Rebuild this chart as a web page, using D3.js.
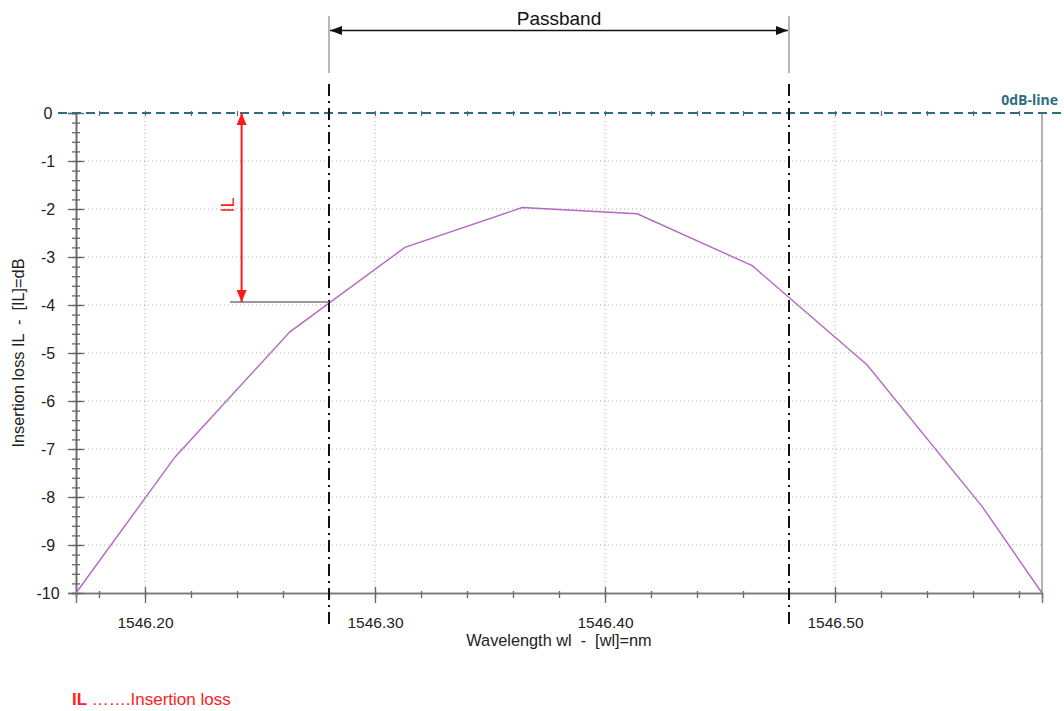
<!DOCTYPE html>
<html>
<head>
<meta charset="utf-8">
<script src="https://cdn.jsdelivr.net/npm/d3@7"></script>
<style>
  body { margin: 0; background: #fff; }
  svg { display: block; font-family: "Liberation Sans", Arial, sans-serif; }
</style>
</head>
<body>
<svg id="chart" width="1064" height="711"></svg>
<script>
// ---- data ----
const wavelengths = [1546.17, 1546.213, 1546.263, 1546.313, 1546.364, 1546.414, 1546.464, 1546.514, 1546.564, 1546.59];
const insertionLoss = [-10, -7.17, -4.56, -2.80, -1.97, -2.10, -3.18, -5.25, -8.20, -10];
const xDomain = [1546.17, 1546.59];
const yDomain = [-10, 0];
const xMajorTicks = [1546.20, 1546.30, 1546.40, 1546.50];
const yMajorTicks = [0, -1, -2, -3, -4, -5, -6, -7, -8, -9, -10];
const passband = [1546.28, 1546.48];
const ilValue = -3.94;
const ilArrowX = 1546.242;
const ilMarkStart = 1546.237;

// ---- layout ----
const svg = d3.select("#chart");
const pLeft = 76, pRight = 1042, pTop = 113, pBottom = 593;
const x = d3.scaleLinear().domain(xDomain).range([pLeft, pRight]);
const y = d3.scaleLinear().domain(yDomain).range([pBottom, pTop]);

const xMinor = d3.range(0, 21).map(i => +(1546.18 + i * 0.02).toFixed(2)).filter(v => v < xDomain[1]);
const yMinor = d3.range(0, 51).map(i => +(-10 + i * 0.2).toFixed(1));

// grid
const grid = svg.append("g");
grid.selectAll(".vg").data(xMajorTicks).join("line")
  .attr("x1", d => x(d)).attr("x2", d => x(d)).attr("y1", pTop).attr("y2", pBottom)
  .attr("stroke", "#aaa").attr("stroke-width", 1).attr("stroke-dasharray", "1,3");
grid.selectAll(".hg").data(yMajorTicks.filter(d => d !== 0 && d !== -10)).join("line")
  .attr("x1", pLeft).attr("x2", pRight).attr("y1", d => y(d)).attr("y2", d => y(d))
  .attr("stroke", "#aaa").attr("stroke-width", 1).attr("stroke-dasharray", "1,3");

// right border
svg.append("line").attr("x1", pRight).attr("x2", pRight).attr("y1", pTop).attr("y2", pBottom)
  .attr("stroke", "#999").attr("stroke-width", 1.5);

// x axis (bottom)
const xAxisMinor = d3.axisBottom(x).tickValues(xMinor).tickSize(5).tickFormat("");
const xAxisMajor = d3.axisBottom(x).tickValues(xMajorTicks).tickSize(10).tickFormat(d3.format(".2f")).tickPadding(14);
const gxm = svg.append("g").attr("transform", `translate(0,${pBottom})`).call(xAxisMinor);
const gx = svg.append("g").attr("transform", `translate(0,${pBottom})`).call(xAxisMajor);
[gxm, gx].forEach(g => {
  g.select(".domain").attr("stroke", "#777").attr("stroke-width", 1.5);
  g.selectAll(".tick line").attr("stroke", "#666").attr("stroke-width", 1.3);
});
gxm.selectAll(".tick line").attr("y1", -2);
gx.selectAll(".tick line").attr("y1", -6);
gx.selectAll(".tick text").attr("font-size", 15.5).attr("fill", "#222")
  .attr("font-family", "Liberation Sans, Arial, sans-serif");

// top axis ticks
const xTopMinor = d3.axisTop(x).tickValues(xMinor).tickSize(-3).tickFormat("");
const gtop = svg.append("g").attr("transform", `translate(0,${pTop})`).call(xTopMinor);
gtop.select(".domain").remove();
gtop.selectAll(".tick line").attr("stroke", "#666").attr("stroke-width", 1.2).attr("y1", -2);

// y axis
const yAxisMinor = d3.axisLeft(y).tickValues(yMinor).tickSize(4).tickFormat("");
const yAxisMajor = d3.axisLeft(y).tickValues(yMajorTicks).tickSize(8).tickFormat(d => String(d));
const gym = svg.append("g").attr("transform", `translate(${pLeft},0)`).call(yAxisMinor);
const gy = svg.append("g").attr("transform", `translate(${pLeft},0)`).call(yAxisMajor);
[gym, gy].forEach(g => {
  g.select(".domain").attr("stroke", "#666").attr("stroke-width", 1.5);
  g.selectAll(".tick line").attr("stroke", "#666").attr("stroke-width", 1.3);
});
gym.selectAll(".tick line").attr("x2", 4).attr("x1", -4);
gy.selectAll(".tick line").attr("x2", 8).attr("x1", -8);
gy.selectAll(".tick text").attr("font-size", 16).attr("fill", "#222")
  .attr("text-anchor", "middle").attr("x", -28)
  .attr("font-family", "Liberation Sans, Arial, sans-serif");

// 0 dB dashed line
svg.append("line").attr("x1", 58).attr("x2", 1062).attr("y1", y(0)).attr("y2", y(0))
  .attr("stroke", "#2f6c80").attr("stroke-width", 2).attr("stroke-dasharray", "9,5");
svg.append("text").attr("x", 1058).attr("y", 105).attr("text-anchor", "end")
  .attr("font-family", "Open Sans, DejaVu Sans, sans-serif").attr("font-weight", "bold")
  .attr("font-size", 14).attr("fill", "#2f6c80").text("0dB-line");

// curve
const line = d3.line().x(d => x(d[0])).y(d => y(d[1]));
svg.append("path").datum(wavelengths.map((w, i) => [w, insertionLoss[i]]))
  .attr("d", line).attr("fill", "none").attr("stroke", "#b468c4").attr("stroke-width", 1.4);

// passband vertical dash-dot lines
passband.forEach(w => {
  svg.append("line").attr("x1", x(w)).attr("x2", x(w)).attr("y1", 84).attr("y2", 627)
    .attr("stroke", "#111").attr("stroke-width", 2).attr("stroke-dasharray", "12,5,2,5");
  svg.append("line").attr("x1", x(w)).attr("x2", x(w)).attr("y1", 16).attr("y2", 73)
    .attr("stroke", "#888").attr("stroke-width", 1.2);
});

// arrow markers
const defs = svg.append("defs");
function marker(id, color, w, h) {
  defs.append("marker").attr("id", id).attr("viewBox", `0 0 ${w} ${h}`)
    .attr("refX", w).attr("refY", h / 2).attr("markerWidth", w).attr("markerHeight", h)
    .attr("markerUnits", "userSpaceOnUse").attr("orient", "auto-start-reverse")
    .append("path").attr("d", `M0,0L${w},${h / 2}L0,${h}Z`).attr("fill", color);
}
marker("blackArrow", "#111", 12, 9);
marker("redArrow", "#ff1a1a", 12, 10);

// passband arrow
svg.append("line").attr("x1", x(passband[0]) + 1).attr("x2", x(passband[1]) - 1).attr("y1", 30.5).attr("y2", 30.5)
  .attr("stroke", "#111").attr("stroke-width", 1.6)
  .attr("marker-start", "url(#blackArrow)").attr("marker-end", "url(#blackArrow)");
svg.append("text").attr("x", (x(passband[0]) + x(passband[1])) / 2).attr("y", 25)
  .attr("text-anchor", "middle").attr("font-size", 19).attr("fill", "#111").text("Passband");

// IL marker
svg.append("line").attr("x1", x(ilMarkStart)).attr("x2", x(passband[0])).attr("y1", y(ilValue)).attr("y2", y(ilValue))
  .attr("stroke", "#777").attr("stroke-width", 1.5);
svg.append("line").attr("x1", x(ilArrowX)).attr("x2", x(ilArrowX)).attr("y1", y(0)).attr("y2", y(ilValue))
  .attr("stroke", "#ff1a1a").attr("stroke-width", 2)
  .attr("marker-start", "url(#redArrow)").attr("marker-end", "url(#redArrow)");
svg.append("text").attr("transform", `translate(${x(ilArrowX) - 8},205) rotate(-90)`)
  .attr("text-anchor", "middle").attr("font-size", 18).attr("fill", "#ff1a1a").text("IL");

// axis titles
svg.append("text").attr("x", (pLeft + pRight) / 2).attr("y", 646).attr("text-anchor", "middle")
  .attr("font-size", 16.3).attr("fill", "#222").attr("xml:space", "preserve")
  .text("Wavelength wl  -  [wl]=nm");
svg.append("text").attr("transform", `translate(24,${(pTop + pBottom) / 2}) rotate(-90)`)
  .attr("text-anchor", "middle").attr("font-size", 16.3).attr("fill", "#222").attr("xml:space", "preserve")
  .text("Insertion loss IL  -  [IL]=dB");

// legend
const leg = svg.append("text").attr("x", 72).attr("y", 705).attr("font-size", 17).attr("fill", "#ff2020");
leg.append("tspan").attr("font-weight", "bold").text("IL");
leg.append("tspan").text(" \u2026\u2026.Insertion loss");
</script>
</body>
</html>
